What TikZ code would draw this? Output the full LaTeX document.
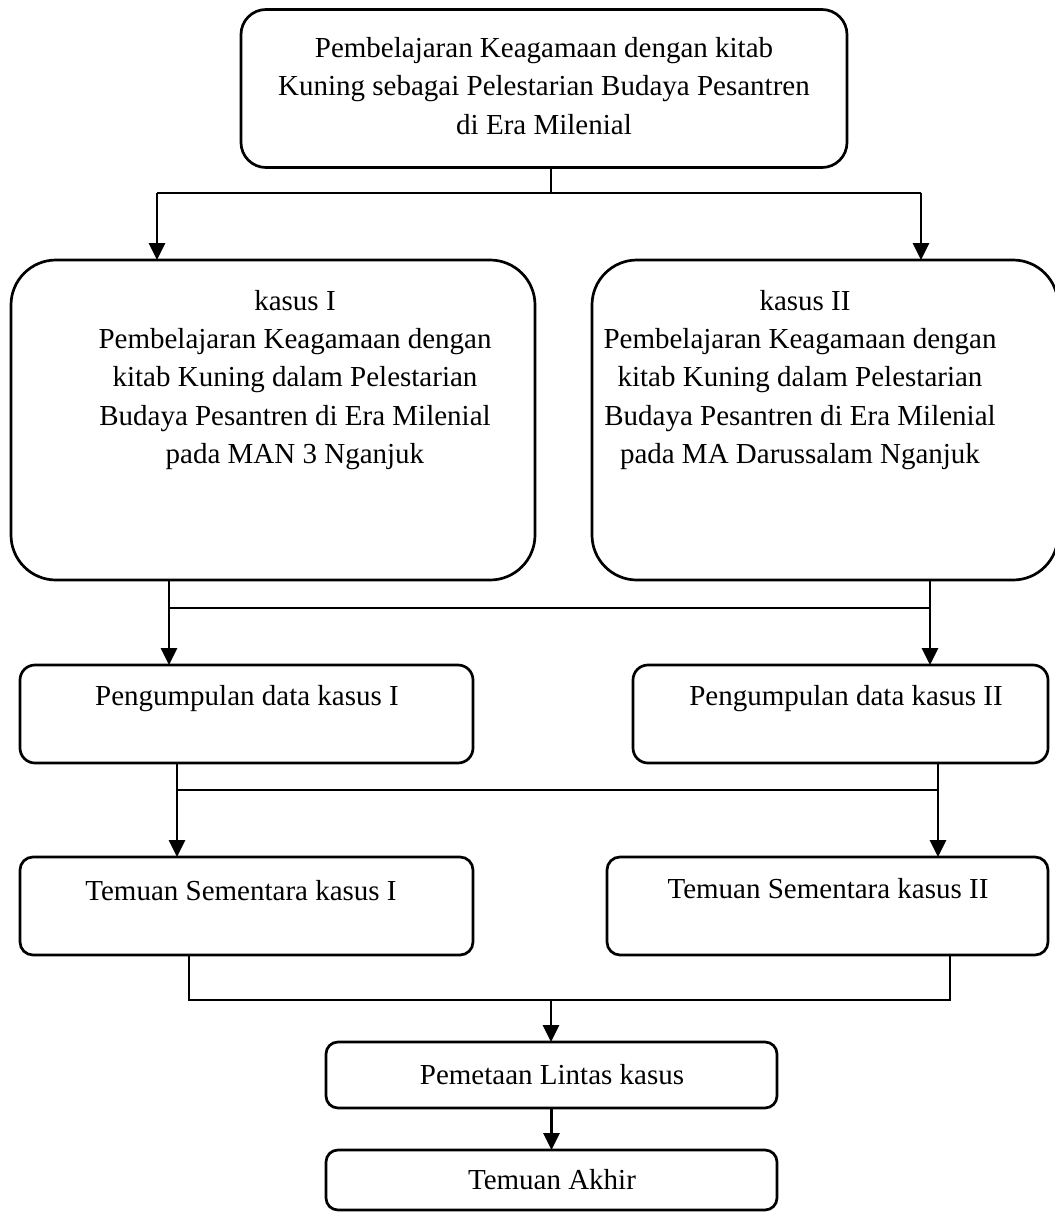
\documentclass[tikz,border=0pt]{standalone}
\usepackage{fontspec}
\setmainfont{Liberation Serif}
\usetikzlibrary{arrows.meta}
\begin{document}
\begin{tikzpicture}[x=1pt,y=-1pt,
  every node/.style={inner sep=0pt,outer sep=0pt},
  box/.style={draw,line width=2.7pt},
  txt/.style={font=\fontsize{29}{38.5}\selectfont,align=center},
  conn/.style={line width=2.7pt},
  arr/.style={line width=2.7pt,-{Triangle[width=16pt,length=17pt]}}]
\useasboundingbox (0,0) rectangle (1055,1213);
% boxes
\node[box,rounded corners=25pt,minimum width=606pt,minimum height=158pt] (top) at (544,88.5) {};
\node[box,rounded corners=45pt,minimum width=524pt,minimum height=320pt] (caseL) at (273,420) {};
\node[box,rounded corners=45pt,minimum width=466pt,minimum height=320pt] (caseR) at (825,420) {};
\node[box,rounded corners=15pt,minimum width=453pt,minimum height=98pt] (pengL) at (246.5,714) {};
\node[box,rounded corners=15pt,minimum width=415pt,minimum height=98pt] (pengR) at (840.5,714) {};
\node[box,rounded corners=13pt,minimum width=453pt,minimum height=98pt] (temL) at (246.5,906) {};
\node[box,rounded corners=13pt,minimum width=441pt,minimum height=98pt] (temR) at (827.5,906) {};
\node[box,rounded corners=12pt,minimum width=451pt,minimum height=66pt] (pem) at (551.5,1075) {};
\node[box,rounded corners=12pt,minimum width=451pt,minimum height=60pt] (akh) at (551.5,1180) {};
% texts
\node[txt] (ttop) at (544,86) {Pembelajaran Keagamaan dengan kitab\\Kuning sebagai Pelestarian Budaya Pesantren\\di Era Milenial};
\node[txt] (tkL) at (295,301) {kasus I};
\node[txt] (tcL) at (295,399) {Pembelajaran Keagamaan dengan\\kitab Kuning dalam Pelestarian\\Budaya Pesantren di Era Milenial\\pada MAN 3 Nganjuk};
\node[txt] (tkR) at (805,301) {kasus II};
\node[txt] (tcR) at (800,399) {Pembelajaran Keagamaan dengan\\kitab Kuning dalam Pelestarian\\Budaya Pesantren di Era Milenial\\pada MA Darussalam Nganjuk};
\node[txt] (tpL) at (247,699) {Pengumpulan data kasus I};
\node[txt] (tpR) at (846,699) {Pengumpulan data kasus II};
\node[txt] (ttL) at (241,891) {Temuan Sementara kasus I};
\node[txt] (ttR) at (828,889) {Temuan Sementara kasus II};
\node[txt] (tpem) at (552,1075) {Pemetaan Lintas kasus};
\node[txt] (takh) at (552,1180) {Temuan Akhir};
% connectors level 1
\coordinate (j1) at (551,193);
\coordinate (j1L) at (157,193);
\coordinate (j1R) at (921,193);
\draw[conn] (j1 |- top.south) -- (j1);
\draw[conn] (j1L) -- (j1R);
\draw[arr] (j1L) -- (j1L |- caseL.north);
\draw[arr] (j1R) -- (j1R |- caseR.north);
% level 2
\coordinate (j2L) at (169,608);
\coordinate (j2R) at (930,608);
\draw[arr] (j2L |- caseL.south) -- (j2L |- pengL.north);
\draw[arr] (j2R |- caseR.south) -- (j2R |- pengR.north);
\draw[conn] (j2L) -- (j2R);
% level 3
\coordinate (j3L) at (177,790);
\coordinate (j3R) at (938,790);
\draw[arr] (j3L |- pengL.south) -- (j3L |- temL.north);
\draw[arr] (j3R |- pengR.south) -- (j3R |- temR.north);
\draw[conn] (j3L) -- (j3R);
% level 4
\coordinate (j4L) at (189,1000);
\coordinate (j4R) at (950,1000);
\coordinate (j4) at (551,1000);
\draw[conn] (j4L |- temL.south) -- (j4L) -- (j4R) -- (j4R |- temR.south);
\draw[arr] (j4) -- (j4 |- pem.north);
% level 5
\draw[arr] (pem.south) -- (akh.north);
\end{tikzpicture}
\end{document}
